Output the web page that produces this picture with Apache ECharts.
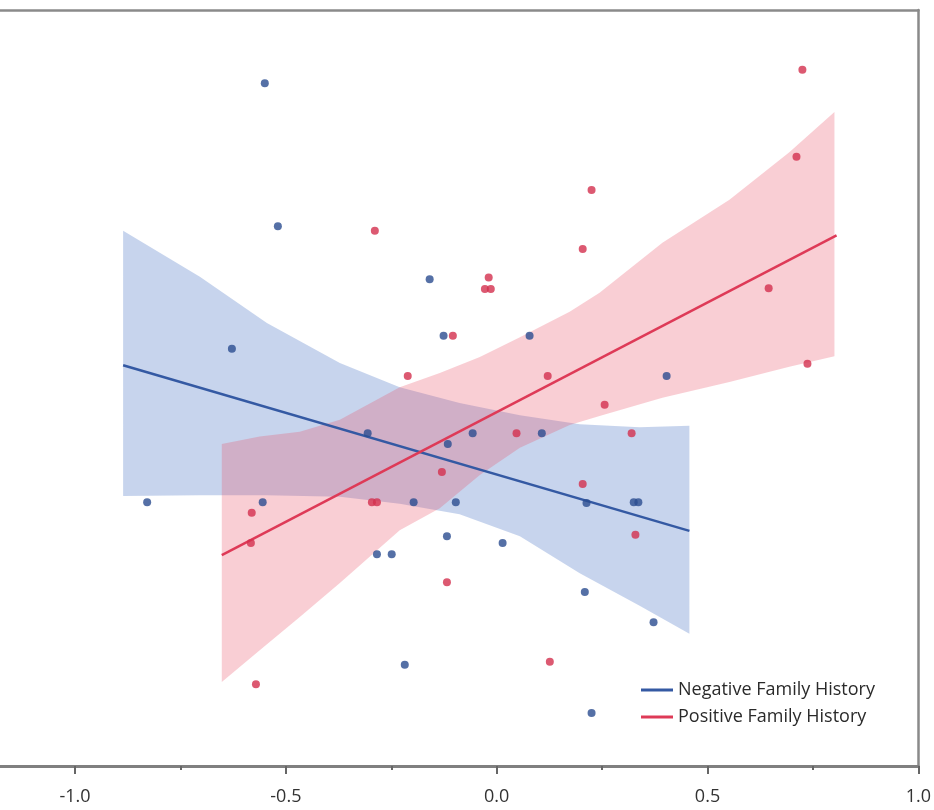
<!DOCTYPE html>
<html>
<head>
<meta charset="utf-8">
<script src="https://cdn.jsdelivr.net/npm/echarts@6/dist/echarts.min.js"></script>
<style>
  html, body { margin: 0; padding: 0; background: #fff; }
  #chart { width: 934px; height: 810px; }
</style>
</head>
<body>
<div id="chart"></div>
<script>
// scatter points [x, y]
const negativePoints = [
  [-0.550, 90.3], [-0.519, 71.4], [-0.628, 55.2], [-0.829, 34.9], [-0.555, 34.9],
  [-0.159, 64.4], [-0.126, 56.9], [0.078, 56.9], [0.403, 51.6], [-0.306, 44.0],
  [-0.116, 42.6], [-0.057, 44.0], [0.107, 44.0], [-0.197, 34.9], [-0.097, 34.9],
  [0.213, 34.8], [0.325, 34.9], [0.336, 34.9], [-0.284, 28.0], [-0.249, 28.0],
  [-0.118, 30.4], [0.014, 29.5], [0.209, 23.0], [0.372, 19.0], [-0.218, 13.4],
  [0.225, 7.0]
]
const positivePoints = [
  [0.725, 92.1], [0.711, 80.6], [0.225, 76.2], [-0.289, 70.8], [0.204, 68.4],
  [-0.019, 64.6], [-0.028, 63.1], [-0.014, 63.1], [-0.104, 56.9], [0.645, 63.2],
  [-0.211, 51.6], [0.121, 51.6], [0.737, 53.2], [0.256, 47.8], [0.047, 44.0],
  [0.320, 44.0], [-0.130, 38.9], [0.204, 37.3], [-0.296, 34.9], [-0.284, 34.9],
  [-0.581, 33.5], [-0.583, 29.5], [0.329, 30.6], [-0.118, 24.3], [0.126, 13.8],
  [-0.571, 10.8]
]

// fitted lines (end points)
const negativeFit = [[-0.886, 53.0], [0.457, 31.1]]
const positiveFit = [[-0.652, 27.9], [0.806, 70.2]]

// confidence bands
const negBandX = [-0.886, -0.704, -0.545, -0.372, -0.230, -0.088, 0.055, 0.197, 0.339, 0.457]
const negBandUpper = [70.8, 64.7, 58.6, 53.3, 50.1, 48.0, 46.4, 45.2, 44.8, 45.0]
const negBandLower = [35.7, 35.8, 35.8, 35.6, 34.7, 33.3, 30.4, 25.5, 21.2, 17.5]

const posBandX = [-0.652, -0.562, -0.467, -0.372, -0.230, -0.135, -0.040, 0.055, 0.173, 0.244, 0.393, 0.552, 0.694, 0.801]
const posBandUpper = [42.6, 43.6, 44.2, 45.8, 50.1, 52.0, 54.1, 56.7, 60.1, 62.6, 69.2, 74.9, 81.2, 86.5]
const posBandLower = [11.1, 15.3, 19.7, 24.2, 31.2, 34.1, 38.5, 42.1, 45.1, 46.3, 48.7, 50.8, 52.8, 54.2]

const xLabelValues = [-1.0, -0.5, 0.0, 0.5, 1.0]
const xMinorTicks = [-0.75, -0.25, 0.25, 0.75]

const BLUE = '#2b4c90'
const RED = '#de3a57'

function bandSeries(name, xs, upper, lower, color) {
  return {
    name: name,
    type: 'custom',
    silent: true,
    z: 1,
    data: [0],
    renderItem: function (params, api) {
      const pts = []
      for (let i = 0; i < xs.length; i++) pts.push(api.coord([xs[i], upper[i]]))
      for (let i = xs.length - 1; i >= 0; i--) pts.push(api.coord([xs[i], lower[i]]))
      return {
        type: 'polygon',
        shape: { points: pts },
        style: { fill: color }
      }
    }
  }
}

const chart = echarts.init(document.getElementById('chart'))

const option = {
  animation: false,
  backgroundColor: '#fff',
  grid: { left: 0, right: 15, top: 10, bottom: 44 },
  legend: {
    orient: 'vertical',
    left: 636,
    top: 676,
    itemWidth: 32,
    itemHeight: 3,
    itemGap: 9,
    icon: 'rect',
    data: ['Negative Family History', 'Positive Family History'],
    textStyle: { fontFamily: 'Open Sans', fontSize: 18, color: '#2a2a2a' }
  },
  xAxis: [
    {
      type: 'value', min: -1.178, max: 1.0,
      axisLine: { show: true, onZero: false, lineStyle: { color: '#808080', width: 3 } },
      axisTick: { show: true, customValues: xLabelValues, length: 8, lineStyle: { color: '#666', width: 2 } },
      axisLabel: {
        customValues: xLabelValues, margin: 22,
        fontFamily: 'Open Sans', fontSize: 18, color: '#333',
        formatter: v => v.toFixed(1)
      },
      splitLine: { show: false }
    },
    {
      type: 'value', min: -1.178, max: 1.0, position: 'bottom',
      axisLine: { show: false, onZero: false },
      axisTick: { show: true, customValues: xMinorTicks, length: 4, lineStyle: { color: '#666', width: 2 } },
      axisLabel: { show: false },
      splitLine: { show: false }
    },
    {
      type: 'value', min: -1.178, max: 1.0, position: 'top',
      axisLine: { show: true, onZero: false, lineStyle: { color: '#8a8a8a', width: 2.5 } },
      axisTick: { show: false },
      axisLabel: { show: false },
      splitLine: { show: false }
    }
  ],
  yAxis: {
    type: 'value', min: 0, max: 100, position: 'right',
    axisLine: { show: true, onZero: false, lineStyle: { color: '#8a8a8a', width: 2.5 } },
    axisTick: { show: false },
    axisLabel: { show: false },
    splitLine: { show: false }
  },
  series: [
    bandSeries('negBand', negBandX, negBandUpper, negBandLower, 'rgba(68,114,196,0.30)'),
    bandSeries('posBand', posBandX, posBandUpper, posBandLower, 'rgba(235,80,100,0.28)'),
    {
      name: 'Negative Family History', type: 'line', data: negativeFit,
      symbol: 'none', z: 3, lineStyle: { color: '#3459a3', width: 2.5 }, itemStyle: { color: '#3459a3' }
    },
    {
      name: 'Positive Family History', type: 'line', data: positiveFit,
      symbol: 'none', z: 3, lineStyle: { color: RED, width: 2.5 }, itemStyle: { color: RED }
    },
    {
      name: 'negScatter', type: 'scatter', data: negativePoints,
      symbolSize: 8, z: 4, itemStyle: { color: BLUE }
    },
    {
      name: 'posScatter', type: 'scatter', data: positivePoints,
      symbolSize: 8, z: 4, itemStyle: { color: '#d3304d' }
    }
  ]
}

chart.setOption(option)
</script>
</body>
</html>
